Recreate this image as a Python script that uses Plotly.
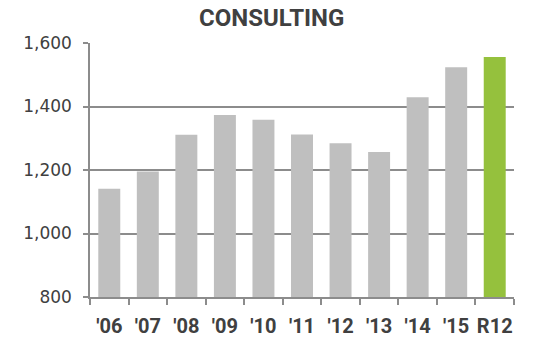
import plotly.graph_objects as go

categories = ["'06", "'07", "'08", "'09", "'10", "'11", "'12", "'13", "'14", "'15", "R12"]
values = [1141, 1195, 1311, 1373, 1358, 1312, 1284, 1257, 1429, 1524, 1556]
bar_colors = ["#BFBFBF"] * 10 + ["#95C13D"]
y_ticks = [800, 1000, 1200, 1400, 1600]
y_tick_labels = ["800", "1,000", "1,200", "1,400", "1,600"]

fig = go.Figure(go.Bar(x=categories, y=values, marker=dict(color=bar_colors, line=dict(width=0)), width=0.57))

fig.update_layout(
    width=538, height=339,
    margin=dict(l=90, r=24, t=43, b=42),
    paper_bgcolor="white", plot_bgcolor="white",
    showlegend=False,
    title=dict(text="<b>CONSULTING</b>", x=0.505, xanchor="center", y=0.947, yanchor="middle",
               font=dict(family="Roboto", size=24, color="#404040")),
    bargap=0.43,
)
fig.update_xaxes(
    type="category", tickson="boundaries", ticks="outside", ticklen=6, tickcolor="#8C8C8C", tickwidth=1.5,
    showline=True, linecolor="#8C8C8C", linewidth=1.5, showgrid=False, tickangle=0,
    tickfont=dict(family="Roboto", size=20, color="#404040"),
    tickprefix="<b>", ticksuffix="</b>", ticklabelstandoff=10, automargin=False,
)
fig.update_yaxes(
    range=[800, 1600], tickvals=y_ticks, ticktext=y_tick_labels,
    ticks="outside", ticklen=5, tickcolor="#8C8C8C", tickwidth=1.5,
    showline=True, linecolor="#8C8C8C", linewidth=1.5,
    showgrid=True, gridcolor="#8C8C8C", gridwidth=1.5, zeroline=False,
    tickfont=dict(family="DejaVu Sans", size=17, color="#404040"),
    ticklabelstandoff=8, automargin=False,
)
fig.write_html("out.html")
